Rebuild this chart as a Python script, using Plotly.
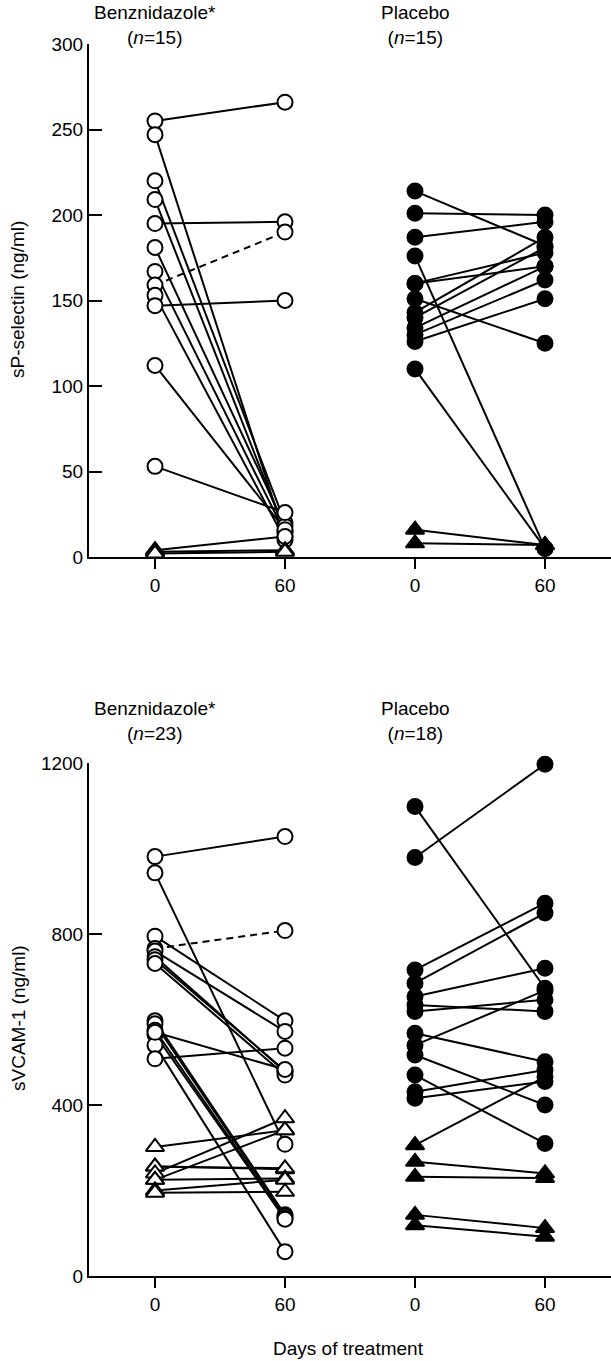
import plotly.graph_objects as go

# ---------------- data ----------------
x_ticklabels = ["0", "60", "0", "60"]
group_names = ["Benznidazole*", "Placebo"]
top_n = [15, 15]
bottom_n = [23, 18]
top_ytitle = "sP-selectin (ng/ml)"
bottom_ytitle = "sVCAM-1 (ng/ml)"
x_title = "Days of treatment"

# sP-selectin, Benznidazole (c = circle, t = triangle)
sp_benz_day0 = [255, 247, 220, 209, 195, 181, 167, 159, 153, 147, 112, 53, 4, 3, 2]
sp_benz_day60 = [266, 12, 20, 15, 196, 18, 14, 190, 10, 150, 16, 26, 12, 4, 3]
sp_benz_kind0 = ["c"] * 12 + ["t"] * 3
sp_benz_kind60 = ["c"] * 13 + ["t"] * 2
sp_benz_dashed = [7]

# sP-selectin, Placebo
sp_plac_day0 = [214, 201, 187, 176, 160, 160, 151, 143, 140, 134, 130, 126, 110, 16, 8]
sp_plac_day60 = [182, 200, 196, 5, 178, 170, 125, 187, 181, 170, 162, 151, 5, 7, 7]
sp_plac_kind0 = ["c"] * 13 + ["t"] * 2
sp_plac_kind60 = ["c"] * 13 + ["t"] * 2

# sVCAM-1, Benznidazole
sv_benz_day0 = [981, 943, 795, 766, 760, 747, 740, 731, 597, 590, 575, 565, 540, 508, 570,
                302, 256, 256, 240, 225, 225, 200, 195]
sv_benz_day60 = [1028, 308, 597, 808, 572, 478, 480, 470, 143, 140, 135, 133, 57, 533, 483,
                 341, 250, 252, 369, 341, 228, 225, 197]
sv_benz_kind0 = ["c"] * 15 + ["t"] * 8
sv_benz_kind60 = ["c"] * 15 + ["t"] * 8
sv_benz_dashed = [3]

# sVCAM-1, Placebo
sv_plac_day0 = [1098, 979, 716, 685, 654, 634, 619, 568, 540, 517, 470, 431, 416,
                306, 267, 232, 143, 119]
sv_plac_day60 = [673, 1197, 872, 849, 720, 619, 646, 501, 668, 400, 310, 482, 455,
                 466, 240, 229, 112, 92]
sv_plac_kind0 = ["c"] * 13 + ["t"] * 5
sv_plac_kind60 = ["c"] * 14 + ["t"] * 4

# ---------------- figure ----------------
W, H = 611, 1361
ML, MR, MT, MB = 89, 0, 44, 85
plot_h = H - MT - MB
top_y0 = (1276 - 557) / plot_h
bot_y1 = (1276 - 763) / plot_h

FONT = "Liberation Sans, Arial, sans-serif"
FS = 19

fig = go.Figure()

SYM = {"c": "circle", "t": "triangle-up"}


def add_group(xa, yaxis, d0, d60, k0, k60, filled, dashed=()):
    xref = "x" if yaxis == "y" else "x2"
    for i, (a, b) in enumerate(zip(d0, d60)):
        fig.add_trace(go.Scatter(
            x=[xa, xa + 1], y=[a, b], mode="lines",
            line=dict(color="black", width=2,
                      dash="7px,5px" if i in dashed else "solid"),
            xaxis=xref, yaxis=yaxis, showlegend=False, hoverinfo="skip",
            cliponaxis=False))
    xs = [xa] * len(d0) + [xa + 1] * len(d60)
    ys = list(d0) + list(d60)
    ks = list(k0) + list(k60)
    fig.add_trace(go.Scatter(
        x=xs, y=ys, mode="markers",
        marker=dict(symbol=[SYM[k] for k in ks],
                    size=[15 if k == "c" else 16 for k in ks],
                    color="black" if filled else "white", opacity=1,
                    line=dict(color="black", width=2)),
        xaxis=xref, yaxis=yaxis, showlegend=False, cliponaxis=False))


add_group(0, "y", sp_benz_day0, sp_benz_day60, sp_benz_kind0, sp_benz_kind60, False, sp_benz_dashed)
add_group(2, "y", sp_plac_day0, sp_plac_day60, sp_plac_kind0, sp_plac_kind60, True)
add_group(0, "y2", sv_benz_day0, sv_benz_day60, sv_benz_kind0, sv_benz_kind60, False, sv_benz_dashed)
add_group(2, "y2", sv_plac_day0, sv_plac_day60, sv_plac_kind0, sv_plac_kind60, True)

x_range = [-(155 - ML) / 130, (W - 155) / 130]

xaxis_common = dict(range=x_range, tickvals=[0, 1, 2, 3], ticktext=x_ticklabels,
                    showline=True, linecolor="black", linewidth=2, ticks="outside",
                    ticklen=10, tickwidth=2, tickcolor="black", showgrid=False,
                    zeroline=False, tickfont=dict(size=FS, color="black"),
                    domain=[0, 1])
yaxis_common = dict(showline=True, linecolor="black", linewidth=2, ticks="inside",
                    ticklen=13, tickwidth=2, tickcolor="black", showgrid=False,
                    zeroline=False, tickfont=dict(size=FS, color="black"))

fig.update_layout(
    width=W, height=H,
    margin=dict(l=ML, r=MR, t=MT, b=MB),
    paper_bgcolor="white", plot_bgcolor="white",
    font=dict(family=FONT, size=FS, color="black"),
    xaxis=dict(anchor="y", **xaxis_common),
    yaxis=dict(domain=[top_y0, 1], range=[0, 300], tickvals=[0, 50, 100, 150, 200, 250, 300],
               anchor="x", **yaxis_common),
    xaxis2=dict(anchor="y2", **xaxis_common),
    yaxis2=dict(domain=[0, bot_y1], range=[0, 1200], tickvals=[0, 400, 800, 1200],
                anchor="x2", **yaxis_common),
)


def py(ypix):
    return (1276 - ypix) / plot_h


def px(xpix):
    return (xpix - ML) / (W - ML)


anns = []
for gi, xa in enumerate([0, 2]):
    anns.append(dict(x=xa, xref="x", y=py(25), yref="paper", yanchor="middle",
                     text=f"{group_names[gi]}<br>(<i>n</i>={top_n[gi]})",
                     showarrow=False, font=dict(size=FS)))
    anns.append(dict(x=xa, xref="x", y=py(721), yref="paper", yanchor="middle",
                     text=f"{group_names[gi]}<br>(<i>n</i>={bottom_n[gi]})",
                     showarrow=False, font=dict(size=FS)))
anns.append(dict(x=px(18), xref="paper", y=py(300), yref="paper",
                 text=top_ytitle, textangle=-90, showarrow=False,
                 xanchor="center", yanchor="middle", font=dict(size=FS)))
anns.append(dict(x=px(18), xref="paper", y=py(1018), yref="paper",
                 text=bottom_ytitle, textangle=-90, showarrow=False,
                 xanchor="center", yanchor="middle", font=dict(size=FS)))
anns.append(dict(x=px(348), xref="paper", y=py(1348), yref="paper",
                 text=x_title, showarrow=False, xanchor="center", yanchor="middle",
                 font=dict(size=FS)))
fig.update_layout(annotations=anns)

fig.write_html("out.html", config={"displayModeBar": False},
               post_script="document.body.style.margin='0';")
